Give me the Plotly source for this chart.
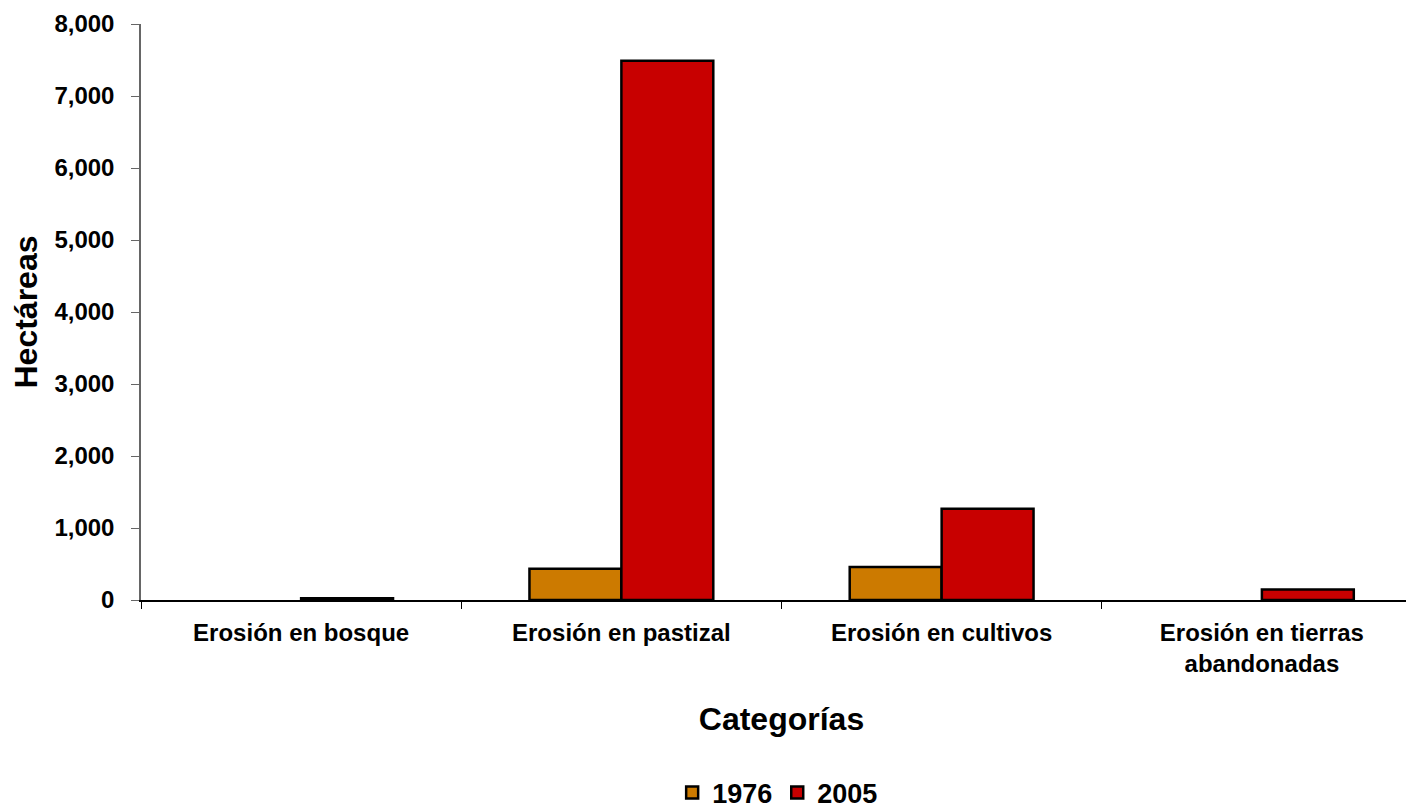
import plotly.graph_objects as go

categories = ["Erosión en bosque", "Erosión en pastizal", "Erosión en cultivos",
              "Erosión en tierras<br>abandonadas"]
values_1976 = [None, 435, 458, None]
values_2005 = [25, 7490, 1268, 145]
series_names = ["1976", "2005"]
y_ticks = [0, 1000, 2000, 3000, 4000, 5000, 6000, 7000, 8000]

FONT = "Liberation Sans, Arial, sans-serif"

fig = go.Figure()
fig.add_trace(go.Bar(
    x=categories, y=values_1976, name=series_names[0],
    marker=dict(color="#CC7A00", line=dict(color="black", width=2.5)),
))
fig.add_trace(go.Bar(
    x=categories, y=values_2005, name=series_names[1],
    marker=dict(color="#C80000", line=dict(color="black", width=2.5)),
))

fig.update_layout(
    width=1414, height=809,
    margin=dict(l=133, r=0, t=16, b=217, autoexpand=False),
    plot_bgcolor="white", paper_bgcolor="white",
    barmode="group", bargap=0.426, bargroupgap=0,
    font=dict(family=FONT, color="black", weight="bold"),
    showlegend=True,
    legend=dict(orientation="h", x=0.497, xanchor="center", y=-0.335, yanchor="middle",
                font=dict(size=27, family=FONT, weight="bold"), itemwidth=30,
                tracegroupgap=0),
)
fig.update_xaxes(
    type="category", range=[-0.5, 3.5], automargin=False,
    showline=True, linecolor="black", linewidth=1.5,
    ticks="outside", tickson="boundaries", ticklen=7, tickcolor="black",
    ticklabelstandoff=10,
    tickfont=dict(size=24, family=FONT, weight="bold"),
    title=dict(text="Categorías", font=dict(size=32, family=FONT, weight="bold"), standoff=32),
    showgrid=False,
)
fig.update_yaxes(
    range=[0, 8000], tickvals=y_ticks, tickformat=",", automargin=False,
    ticklabeloverflow="allow",
    showline=True, linecolor="#666666", linewidth=1.5,
    ticks="outside", ticklen=8, tickcolor="#666666",
    ticklabelstandoff=12,
    tickfont=dict(size=24, family=FONT, weight="bold"),
    title=dict(text="Hectáreas", font=dict(size=32, family=FONT, weight="bold"), standoff=17),
    showgrid=False, zeroline=False,
)

fig.write_html("out.html")
